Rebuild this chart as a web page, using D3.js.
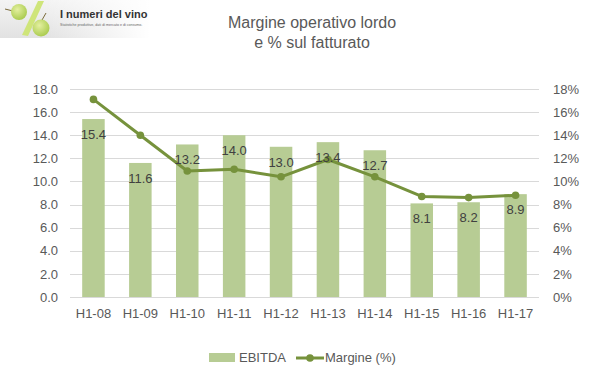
<!DOCTYPE html>
<html><head><meta charset="utf-8">
<script src="https://cdn.jsdelivr.net/npm/d3@7"></script>
<style>body{margin:0;background:#fff}svg{display:block;font-family:"Liberation Sans",Arial,sans-serif}</style>
</head><body>
<svg id="c" width="599" height="378"></svg>
<script>
const categories = ["H1-08","H1-09","H1-10","H1-11","H1-12","H1-13","H1-14","H1-15","H1-16","H1-17"];
const ebitda = [15.4, 11.6, 13.2, 14.0, 13.0, 13.4, 12.7, 8.1, 8.2, 8.9];
const margine = [17.1, 14.0, 10.9, 11.05, 10.4, 11.9, 10.4, 8.7, 8.6, 8.8];
const leftTicks = [0,2,4,6,8,10,12,14,16,18];
const rightTicks = [0,2,4,6,8,10,12,14,16,18];
const titleLines = ["Margine operativo lordo", "e % sul fatturato"];
const legendLabels = ["EBITDA", "Margine (%)"];

const svg = d3.select("#c");
const L = 70, R = 539, T = 89, B = 297;
const barColor = "#b7cc94", lineColor = "#76923c", textCol = "#595959";

const x = d3.scaleBand().domain(categories).range([L, R]).paddingInner(0.52).paddingOuter(0.26);
const y = d3.scaleLinear().domain([0, 18]).range([B, T]);
const y2 = d3.scaleLinear().domain([0, 18]).range([B, T]);

// logo
const defs = svg.append("defs");
const g1 = defs.append("linearGradient").attr("id","lg").attr("x1",0).attr("x2",0).attr("y1",0).attr("y2",1);
g1.append("stop").attr("offset",0).attr("stop-color","#f4f4f4");
g1.append("stop").attr("offset",1).attr("stop-color","#e2e2e2");
const g2 = defs.append("linearGradient").attr("id","lg2").attr("x1",0).attr("x2",1);
g2.append("stop").attr("offset",0).attr("stop-color","#fff").attr("stop-opacity",0);
g2.append("stop").attr("offset",0.3).attr("stop-color","#fff").attr("stop-opacity",0);
g2.append("stop").attr("offset",1).attr("stop-color","#fff").attr("stop-opacity",1);
const gr = defs.append("radialGradient").attr("id","grape").attr("cx",0.4).attr("cy",0.35).attr("r",0.7);
gr.append("stop").attr("offset",0).attr("stop-color","#e4f0a0");
gr.append("stop").attr("offset",1).attr("stop-color","#a7c94a");
svg.append("rect").attr("x",0).attr("y",0).attr("width",150).attr("height",38).attr("fill","url(#lg)");
svg.append("rect").attr("x",0).attr("y",0).attr("width",150).attr("height",38).attr("fill","url(#lg2)");
const logo = svg.append("g");
logo.append("path").attr("d","M22,35 L38,1 L44,1 L28,36 Z").attr("fill","#cfe57a");
logo.append("line").attr("x1",5).attr("y1",9).attr("x2",13).attr("y2",11).attr("stroke","#7a6a3a").attr("stroke-width",1);
logo.append("circle").attr("cx",19).attr("cy",12).attr("r",8).attr("fill","url(#grape)");
logo.append("line").attr("x1",46).attr("y1",13).attr("x2",42).attr("y2",20).attr("stroke","#7a6a3a").attr("stroke-width",1);
logo.append("circle").attr("cx",41).attr("cy",28).attr("r",8.5).attr("fill","url(#grape)");
logo.append("text").attr("x",60).attr("y",18).attr("font-size",11).attr("font-weight","bold").attr("fill","#333").text("I numeri del vino");
logo.append("text").attr("x",60).attr("y",26).attr("font-size",3.6).attr("fill","#666").text("Statistiche produttive, dati di mercato e di consumo.");

// title
svg.append("text").attr("x",312).attr("y",28).attr("text-anchor","middle").attr("font-size",16).attr("fill",textCol).text(titleLines[0]);
svg.append("text").attr("x",312).attr("y",48).attr("text-anchor","middle").attr("font-size",16).attr("fill",textCol).text(titleLines[1]);

// grid
svg.append("g").selectAll("line").data(leftTicks).join("line")
  .attr("x1",L).attr("x2",R).attr("y1",d=>Math.round(y(d))+0.5).attr("y2",d=>Math.round(y(d))+0.5)
  .attr("stroke","#d9d9d9").attr("stroke-width",1);

// axes
const ax = svg.append("g").attr("transform",`translate(${L-12},0)`)
  .call(d3.axisLeft(y).tickValues(leftTicks).tickFormat(d3.format(".1f")).tickSize(0).tickPadding(0));
const ax2 = svg.append("g").attr("transform",`translate(${R+14},0)`)
  .call(d3.axisRight(y2).tickValues(rightTicks).tickFormat(d=>d+"%").tickSize(0).tickPadding(0));
const axb = svg.append("g").attr("transform",`translate(0,${B})`)
  .call(d3.axisBottom(x).tickSize(0).tickPadding(12));
[ax,ax2,axb].forEach(a=>{a.select(".domain").remove();
  a.selectAll("text").attr("font-size",13).attr("fill",textCol).attr("font-family","Liberation Sans,Arial,sans-serif");});

// bars
svg.append("g").selectAll("rect").data(ebitda).join("rect")
  .attr("x",(d,i)=>x(categories[i])).attr("width",x.bandwidth())
  .attr("y",d=>y(d)).attr("height",d=>B-y(d)).attr("fill",barColor);

// line
const line = d3.line().x((d,i)=>x(categories[i])+x.bandwidth()/2).y(d=>y2(d));
svg.append("path").datum(margine).attr("d",line).attr("fill","none").attr("stroke",lineColor).attr("stroke-width",3).attr("stroke-linejoin","round");
svg.append("g").selectAll("circle").data(margine).join("circle")
  .attr("cx",(d,i)=>x(categories[i])+x.bandwidth()/2).attr("cy",d=>y2(d)).attr("r",3.8).attr("fill",lineColor);

// bar labels
svg.append("g").selectAll("text").data(ebitda).join("text")
  .attr("x",(d,i)=>x(categories[i])+x.bandwidth()/2).attr("y",d=>y(d)+20)
  .attr("text-anchor","middle").attr("font-size",13).attr("fill","#404040").text(d=>d3.format(".1f")(d));

// legend
svg.append("rect").attr("x",209).attr("y",353).attr("width",26).attr("height",9).attr("fill",barColor);
svg.append("text").attr("x",239).attr("y",362).attr("font-size",13).attr("fill",textCol).text(legendLabels[0]);
svg.append("line").attr("x1",296).attr("x2",324).attr("y1",358).attr("y2",358).attr("stroke",lineColor).attr("stroke-width",3);
svg.append("circle").attr("cx",310).attr("cy",358).attr("r",3.8).attr("fill",lineColor);
svg.append("text").attr("x",325).attr("y",362).attr("font-size",13).attr("fill",textCol).text(legendLabels[1]);
</script>
</body></html>
